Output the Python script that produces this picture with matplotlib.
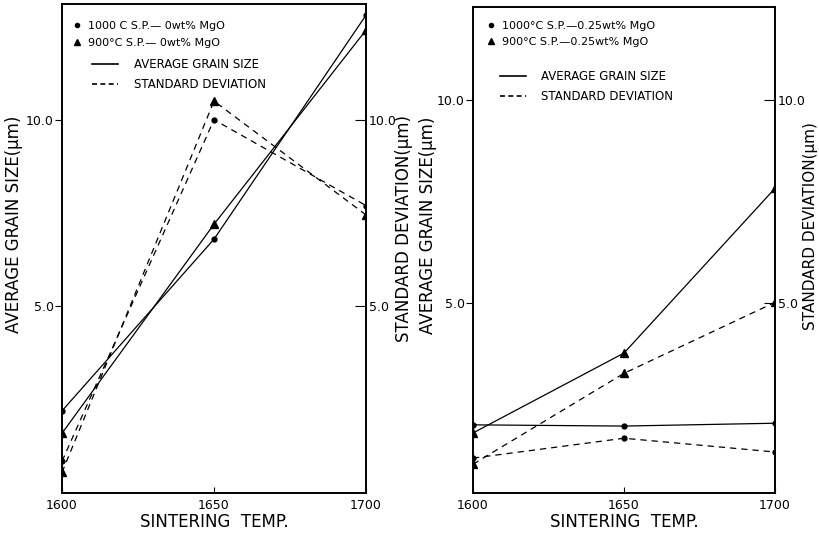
import matplotlib
matplotlib.use("Agg")
import matplotlib.pyplot as plt
from matplotlib.lines import Line2D

plt.rcParams['font.family'] = ['DejaVu Sans']

temps = [1600, 1650, 1700]
x_ticks = [1600, 1650, 1700]
y_ticks = [5.0, 10.0]
y_tick_labels = ["5.0", "10.0"]

# Left panel: 0 wt% MgO
left_avg_1000 = [2.2, 6.8, 12.8]
left_avg_900 = [1.6, 7.2, 12.4]
left_std_1000 = [0.85, 10.0, 7.7]
left_std_900 = [0.55, 10.5, 7.45]

# Right panel: 0.25 wt% MgO
right_avg_1000 = [2.0, 1.97, 2.04]
right_avg_900 = [1.8, 3.77, 7.83]
right_std_1000 = [1.18, 1.67, 1.33]
right_std_900 = [1.03, 3.27, 5.02]

left_series_labels = ["1000 C S.P.— 0wt% MgO", "900°C S.P.— 0wt% MgO"]
right_series_labels = ["1000°C S.P.—0.25wt% MgO", "900°C S.P.—0.25wt% MgO"]
line_labels = ["AVERAGE GRAIN SIZE", "STANDARD DEVIATION"]

fig = plt.figure(figsize=(8.19, 5.35), dpi=100)
axL = fig.add_axes([62/819, 1-493/535, 304/819, 489/535])
axR = fig.add_axes([473/819, 1-493/535, 302/819, 486/535])

def draw(ax, avg1000, avg900, std1000, std900, ylim, series_labels, leg1_anchor, leg2_anchor):
    lw = 0.9
    ax.plot(temps, avg1000, '-', color='black', lw=lw, marker='o', ms=3.5)
    ax.plot(temps, avg900, '-', color='black', lw=lw, marker='^', ms=5.5)
    ax.plot(temps, std1000, '--', color='black', lw=lw, marker='o', ms=3.5, dashes=(5, 4))
    ax.plot(temps, std900, '--', color='black', lw=lw, marker='^', ms=5.5, dashes=(5, 4))
    ax.set_xlim(1600, 1700)
    ax.set_ylim(*ylim)
    ax.set_xticks(x_ticks)
    ax.set_xticklabels([str(t) for t in x_ticks], fontsize=9)
    ax.set_yticks(y_ticks)
    ax.set_yticklabels(y_tick_labels, fontsize=9)
    ax.tick_params(axis='y', direction='out', length=5, pad=1)
    ax.tick_params(axis='x', direction='in', length=4, pad=4)
    ax2 = ax.twinx()
    ax2.set_ylim(*ylim)
    ax2.set_yticks(y_ticks)
    ax2.set_yticklabels(y_tick_labels, fontsize=9)
    ax2.tick_params(axis='y', direction='in', length=8, pad=2)
    for a in (ax, ax2):
        for s in a.spines.values():
            s.set_linewidth(1.2)
    mk_handles = [
        Line2D([], [], ls='none', marker='o', ms=3, color='black'),
        Line2D([], [], ls='none', marker='^', ms=5, color='black'),
    ]
    ln_handles = [
        Line2D([], [], ls='-', lw=1.2, color='black'),
        Line2D([], [], ls='--', lw=1.2, color='black', dashes=(3, 2)),
    ]
    leg1 = ax.legend(mk_handles, series_labels, loc='upper left', frameon=False,
                     fontsize=8, handlelength=1.0, handletextpad=0.5,
                     labelspacing=0.6, borderaxespad=0, borderpad=0,
                     bbox_to_anchor=leg1_anchor)
    ax.add_artist(leg1)
    ax.legend(ln_handles, line_labels, loc='upper left', frameon=False,
              fontsize=8.5, handlelength=2.2, handletextpad=1.3,
              labelspacing=0.6, borderaxespad=0, borderpad=0,
              bbox_to_anchor=leg2_anchor)
    ax.set_xlabel("SINTERING  TEMP.", fontsize=12, labelpad=1)
    return ax2

a2L = draw(axL, left_avg_1000, left_avg_900, left_std_1000, left_std_900, (0, 13.1),
           left_series_labels, (0.03, 0.965), (0.1, 0.89))
a2R = draw(axR, right_avg_1000, right_avg_900, right_std_1000, right_std_900, (0.32, 12.3),
           right_series_labels, (0.04, 0.972), (0.09, 0.87))

axL.set_ylabel("AVERAGE GRAIN SIZE(μm)", fontsize=12)
axL.yaxis.set_label_coords(-0.128, 0.55)
a2L.set_ylabel("STANDARD DEVIATION(μm)", fontsize=12, rotation=90)
a2L.yaxis.set_label_coords(1.095, 0.54)
axR.set_ylabel("AVERAGE GRAIN SIZE(μm)", fontsize=12)
axR.yaxis.set_label_coords(-0.118, 0.55)
a2R.set_ylabel("STANDARD DEVIATION(μm)", fontsize=11, rotation=90)
a2R.yaxis.set_label_coords(1.093, 0.55)

fig.savefig("out.png", dpi=100)
